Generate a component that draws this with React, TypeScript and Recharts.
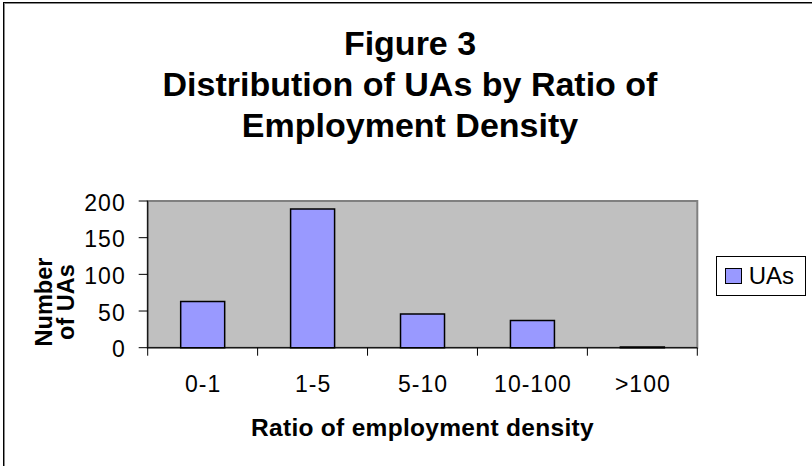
import { BarChart, Bar, XAxis, YAxis, CartesianGrid, ReferenceArea, Legend } from 'recharts';

const categories = ['0-1', '1-5', '5-10', '10-100', '>100'];
const uaCounts = [63, 189, 46, 37, 1];
const yTicks = [0, 50, 100, 150, 200];
const gridValues = [50, 100, 150];
const titleLines = ['Figure 3', 'Distribution of UAs by Ratio of', 'Employment Density'];

const data = categories.map((ratio, i) => ({ ratio, UAs: uaCounts[i] }));

const FONT = '"Liberation Sans", Arial, Helvetica, sans-serif';

function XTick(props: any) {
  const { x, y, payload, index } = props;
  const off = payload?.offset ?? 0;
  return (
    <g>
      <line x1={x - off} x2={x - off} y1={y} y2={y + 8} stroke="#000" />
      {index === categories.length - 1 && (
        <line x1={x + off} x2={x + off} y1={y} y2={y + 8} stroke="#000" />
      )}
      <text
        x={x + 0.5}
        y={y + 44}
        textAnchor="middle"
        fontSize={23}
        letterSpacing={1}
        fontFamily={FONT}
        fill="#000"
      >
        {payload.value}
      </text>
    </g>
  );
}

function YTick(props: any) {
  const { x, y, payload } = props;
  return (
    <text
      x={x + 1}
      y={y + 9.5}
      textAnchor="end"
      fontSize={23}
      letterSpacing={1}
      fontFamily={FONT}
      fill="#000"
    >
      {payload.value}
    </text>
  );
}

function XTitle(props: any) {
  const { viewBox } = props;
  const cx = viewBox.x + viewBox.width / 2;
  return (
    <text
      x={cx}
      y={436}
      textAnchor="middle"
      fontSize={24.5}
      fontWeight="bold"
      letterSpacing={0.3}
      fontFamily={FONT}
      fill="#000"
    >
      Ratio of employment density
    </text>
  );
}

function YTitle() {
  const cy = 302;
  return (
    <g fontFamily={FONT} fontSize={23.5} fontWeight="bold" fill="#000">
      <text x={52} y={cy} textAnchor="middle" transform={`rotate(-90 52 ${cy})`}>
        Number
      </text>
      <text x={74} y={cy} textAnchor="middle" transform={`rotate(-90 74 ${cy})`}>
        of UAs
      </text>
    </g>
  );
}

function LegendBox() {
  return (
    <div
      style={{
        width: 90,
        height: 40,
        boxSizing: 'border-box',
        border: '1px solid #000',
        background: '#fff',
        display: 'flex',
        alignItems: 'center',
        fontFamily: FONT,
        fontSize: 24,
      }}
    >
      <span
        style={{
          display: 'inline-block',
          width: 17,
          height: 16,
          boxSizing: 'border-box',
          background: '#9999FF',
          border: '1px solid #000',
          marginLeft: 8,
          marginRight: 7,
        }}
      />
      <span>UAs</span>
    </div>
  );
}

export default function App() {
  return (
    <div
      style={{
        position: 'fixed',
        left: 0,
        top: 0,
        width: 812,
        height: 466,
        background: '#fff',
        overflow: 'hidden',
      }}
    >
      <div
        style={{
          position: 'absolute',
          left: 3,
          top: 2,
          width: 900,
          height: 600,
          border: '1px solid #000',
          boxShadow: 'inset 1px 1px 0 #888',
        }}
      />
      <div
        style={{
          position: 'absolute',
          left: 0,
          top: 23,
          width: 820,
          textAlign: 'center',
          fontFamily: FONT,
          fontWeight: 'bold',
          fontSize: 34,
          lineHeight: '41px',
          color: '#000',
        }}
      >
        {titleLines.map((t) => (
          <div key={t}>{t}</div>
        ))}
      </div>
      <div style={{ position: 'absolute', left: 0, top: 0 }}>
        <BarChart
          width={812}
          height={466}
          data={data}
          margin={{ top: 201, right: 114.7, bottom: 0, left: 87.7 }}
          barCategoryGap="30%"
        >
          <ReferenceArea y1={0} y2={200} fill="#C0C0C0" fillOpacity={1} stroke="#808080" strokeWidth={2} />
          <CartesianGrid horizontalValues={gridValues} vertical={false} stroke="#000" fill="none" />
          <XAxis
            dataKey="ratio"
            height={118.3}
            axisLine={{ stroke: '#000' }}
            tickLine={false}
            tickSize={0}
            tickMargin={0}
            tick={<XTick />}
            interval={0}
            label={<XTitle />}
          />
          <YAxis
            width={60}
            domain={[0, 200]}
            ticks={yTicks}
            axisLine={{ stroke: '#000' }}
            tickLine={{ stroke: '#000' }}
            tickSize={9}
            tickMargin={14}
            tick={<YTick />}
            label={<YTitle />}
          />
          <Legend
            layout="vertical"
            align="center"
            verticalAlign="middle"
            wrapperStyle={{ left: 715.7, top: 255.7, width: 90 }}
            content={<LegendBox />}
          />
          <Bar dataKey="UAs" fill="#9999FF" stroke="#000" strokeWidth={1.5} isAnimationActive={false} />
        </BarChart>
      </div>
    </div>
  );
}
